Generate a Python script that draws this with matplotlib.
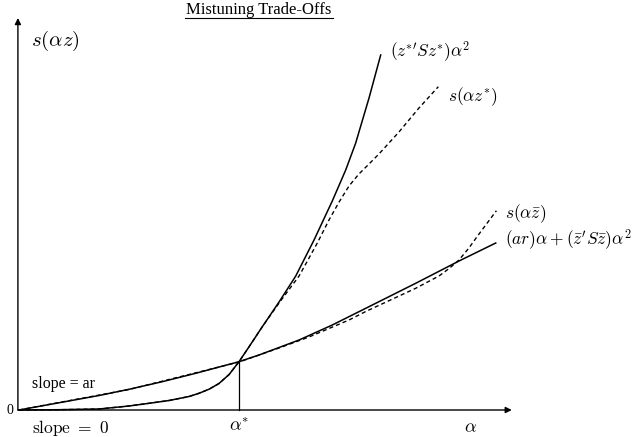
import matplotlib
matplotlib.use("Agg")
import matplotlib.pyplot as plt

plt.rcParams['mathtext.fontset'] = 'cm'

# ---- data (alpha in units of alpha*, s in arbitrary units) ----
alpha_star_curve = [0, 0.182, 0.364, 0.5, 0.591, 0.682, 0.773, 0.818, 0.864, 0.909, 0.955,
                    1.0, 1.045, 1.106, 1.182, 1.258, 1.341, 1.424, 1.485, 1.530, 1.560,
                    1.591, 1.644]
s_star_curve = [0, 0.003, 0.01, 0.04, 0.067, 0.095, 0.135, 0.167, 0.208, 0.265, 0.355,
                0.483, 0.63, 0.833, 1.08, 1.34, 1.70, 2.09, 2.40, 2.667, 2.89,
                3.12, 3.55]

alpha_s_star = [0, 0.182, 0.364, 0.5, 0.591, 0.682, 0.773, 0.818, 0.864, 0.909, 0.955,
                1.0, 1.045, 1.106, 1.182, 1.273, 1.356, 1.409, 1.455, 1.5, 1.545,
                1.591, 1.636, 1.727, 1.818, 1.906]
s_s_star = [0, 0.003, 0.01, 0.04, 0.067, 0.095, 0.135, 0.167, 0.208, 0.265, 0.355,
            0.483, 0.63, 0.833, 1.07, 1.34, 1.67, 1.90, 2.08, 2.24, 2.36,
            2.46, 2.56, 2.78, 3.02, 3.233]

alpha_bar_curve = [0, 0.364, 0.5, 0.651, 0.803, 1.0, 1.091, 1.273, 1.424, 1.576, 1.803,
                   2.0, 2.167]
s_bar_curve = [0, 0.145, 0.207, 0.283, 0.367, 0.483, 0.55, 0.70, 0.85, 1.017, 1.267,
               1.49, 1.67]

alpha_s_bar = [0, 0.5, 1.0, 1.182, 1.318, 1.5, 1.576, 1.803, 1.909, 1.955, 2.0, 2.045,
               2.091, 2.17]
s_s_bar = [0, 0.205, 0.48, 0.62, 0.73, 0.90, 0.985, 1.217, 1.34, 1.415, 1.50, 1.62,
           1.76, 1.993]

alpha_star = 1.0
s_at_alpha_star = 0.483

fig = plt.figure(figsize=(6.36, 4.37), dpi=100)
ax = fig.add_axes([0, 0, 1, 1])
ax.set_xlim(-0.0864, 2.8045)
ax.set_ylim(-0.27, 4.10)
ax.axis('off')

lw = 1.1
dash = (0, (3.0, 2.2))

# axes with arrows
ax.annotate('', xy=(2.24, 0), xytext=(-0.005, 0),
            arrowprops=dict(arrowstyle='-|>', lw=1.0, color='k', mutation_scale=9,
                            shrinkA=0, shrinkB=0))
ax.annotate('', xy=(-0.005, 3.92), xytext=(-0.005, 0),
            arrowprops=dict(arrowstyle='-|>', lw=1.0, color='k', mutation_scale=9,
                            shrinkA=0, shrinkB=0))

ax.plot(alpha_star_curve, s_star_curve, color='k', lw=lw, solid_joinstyle='round')
ax.plot(alpha_s_star, s_s_star, color='k', lw=lw * 0.9, linestyle=dash)
ax.plot(alpha_bar_curve, s_bar_curve, color='k', lw=lw, solid_joinstyle='round')
ax.plot(alpha_s_bar, s_s_bar, color='k', lw=lw * 0.9, linestyle=dash)
ax.plot([alpha_star, alpha_star], [0, s_at_alpha_star], color='k', lw=0.9)

# texts
ax.text(1.09, 4.00, 'Mistuning Trade-Offs', family='Liberation Serif',
        fontsize=12, ha='center', va='center')
ax.plot([0.755, 1.427], [3.92, 3.92], color='k', lw=0.8)

ax.text(0.055, 3.69, r'$s(\alpha z)$', fontsize=15, ha='left', va='center')
ax.text(1.686, 3.58, r"$(z^{*\prime}Sz^{*})\alpha^{2}$", fontsize=12.5, ha='left', va='center')
ax.text(1.95, 3.13, r"$s(\alpha z^{*})$", fontsize=12.5, ha='left', va='center')
ax.text(2.21, 1.96, r"$s(\alpha\bar{z})$", fontsize=12.5, ha='left', va='center')
ax.text(2.21, 1.70, r"$(ar)\alpha + (\bar{z}'S\bar{z})\alpha^{2}$", fontsize=12.5,
        ha='left', va='center')
ax.text(0.060, 0.26, 'slope = ar', family='Liberation Serif', fontsize=11.5,
        ha='left', va='center')
ax.text(-0.043, -0.01, '0', family='Liberation Serif', fontsize=10, ha='center', va='center')
ax.text(0.060, -0.225, r'$\mathrm{slope}\ =\ 0$', fontsize=12.5, ha='left', va='baseline')
ax.text(1.0, -0.16, r'$\alpha^{*}$', fontsize=13, ha='center', va='center')
ax.text(2.05, -0.17, r'$\alpha$', fontsize=13, ha='center', va='center')

fig.savefig('out.png', dpi=100)
